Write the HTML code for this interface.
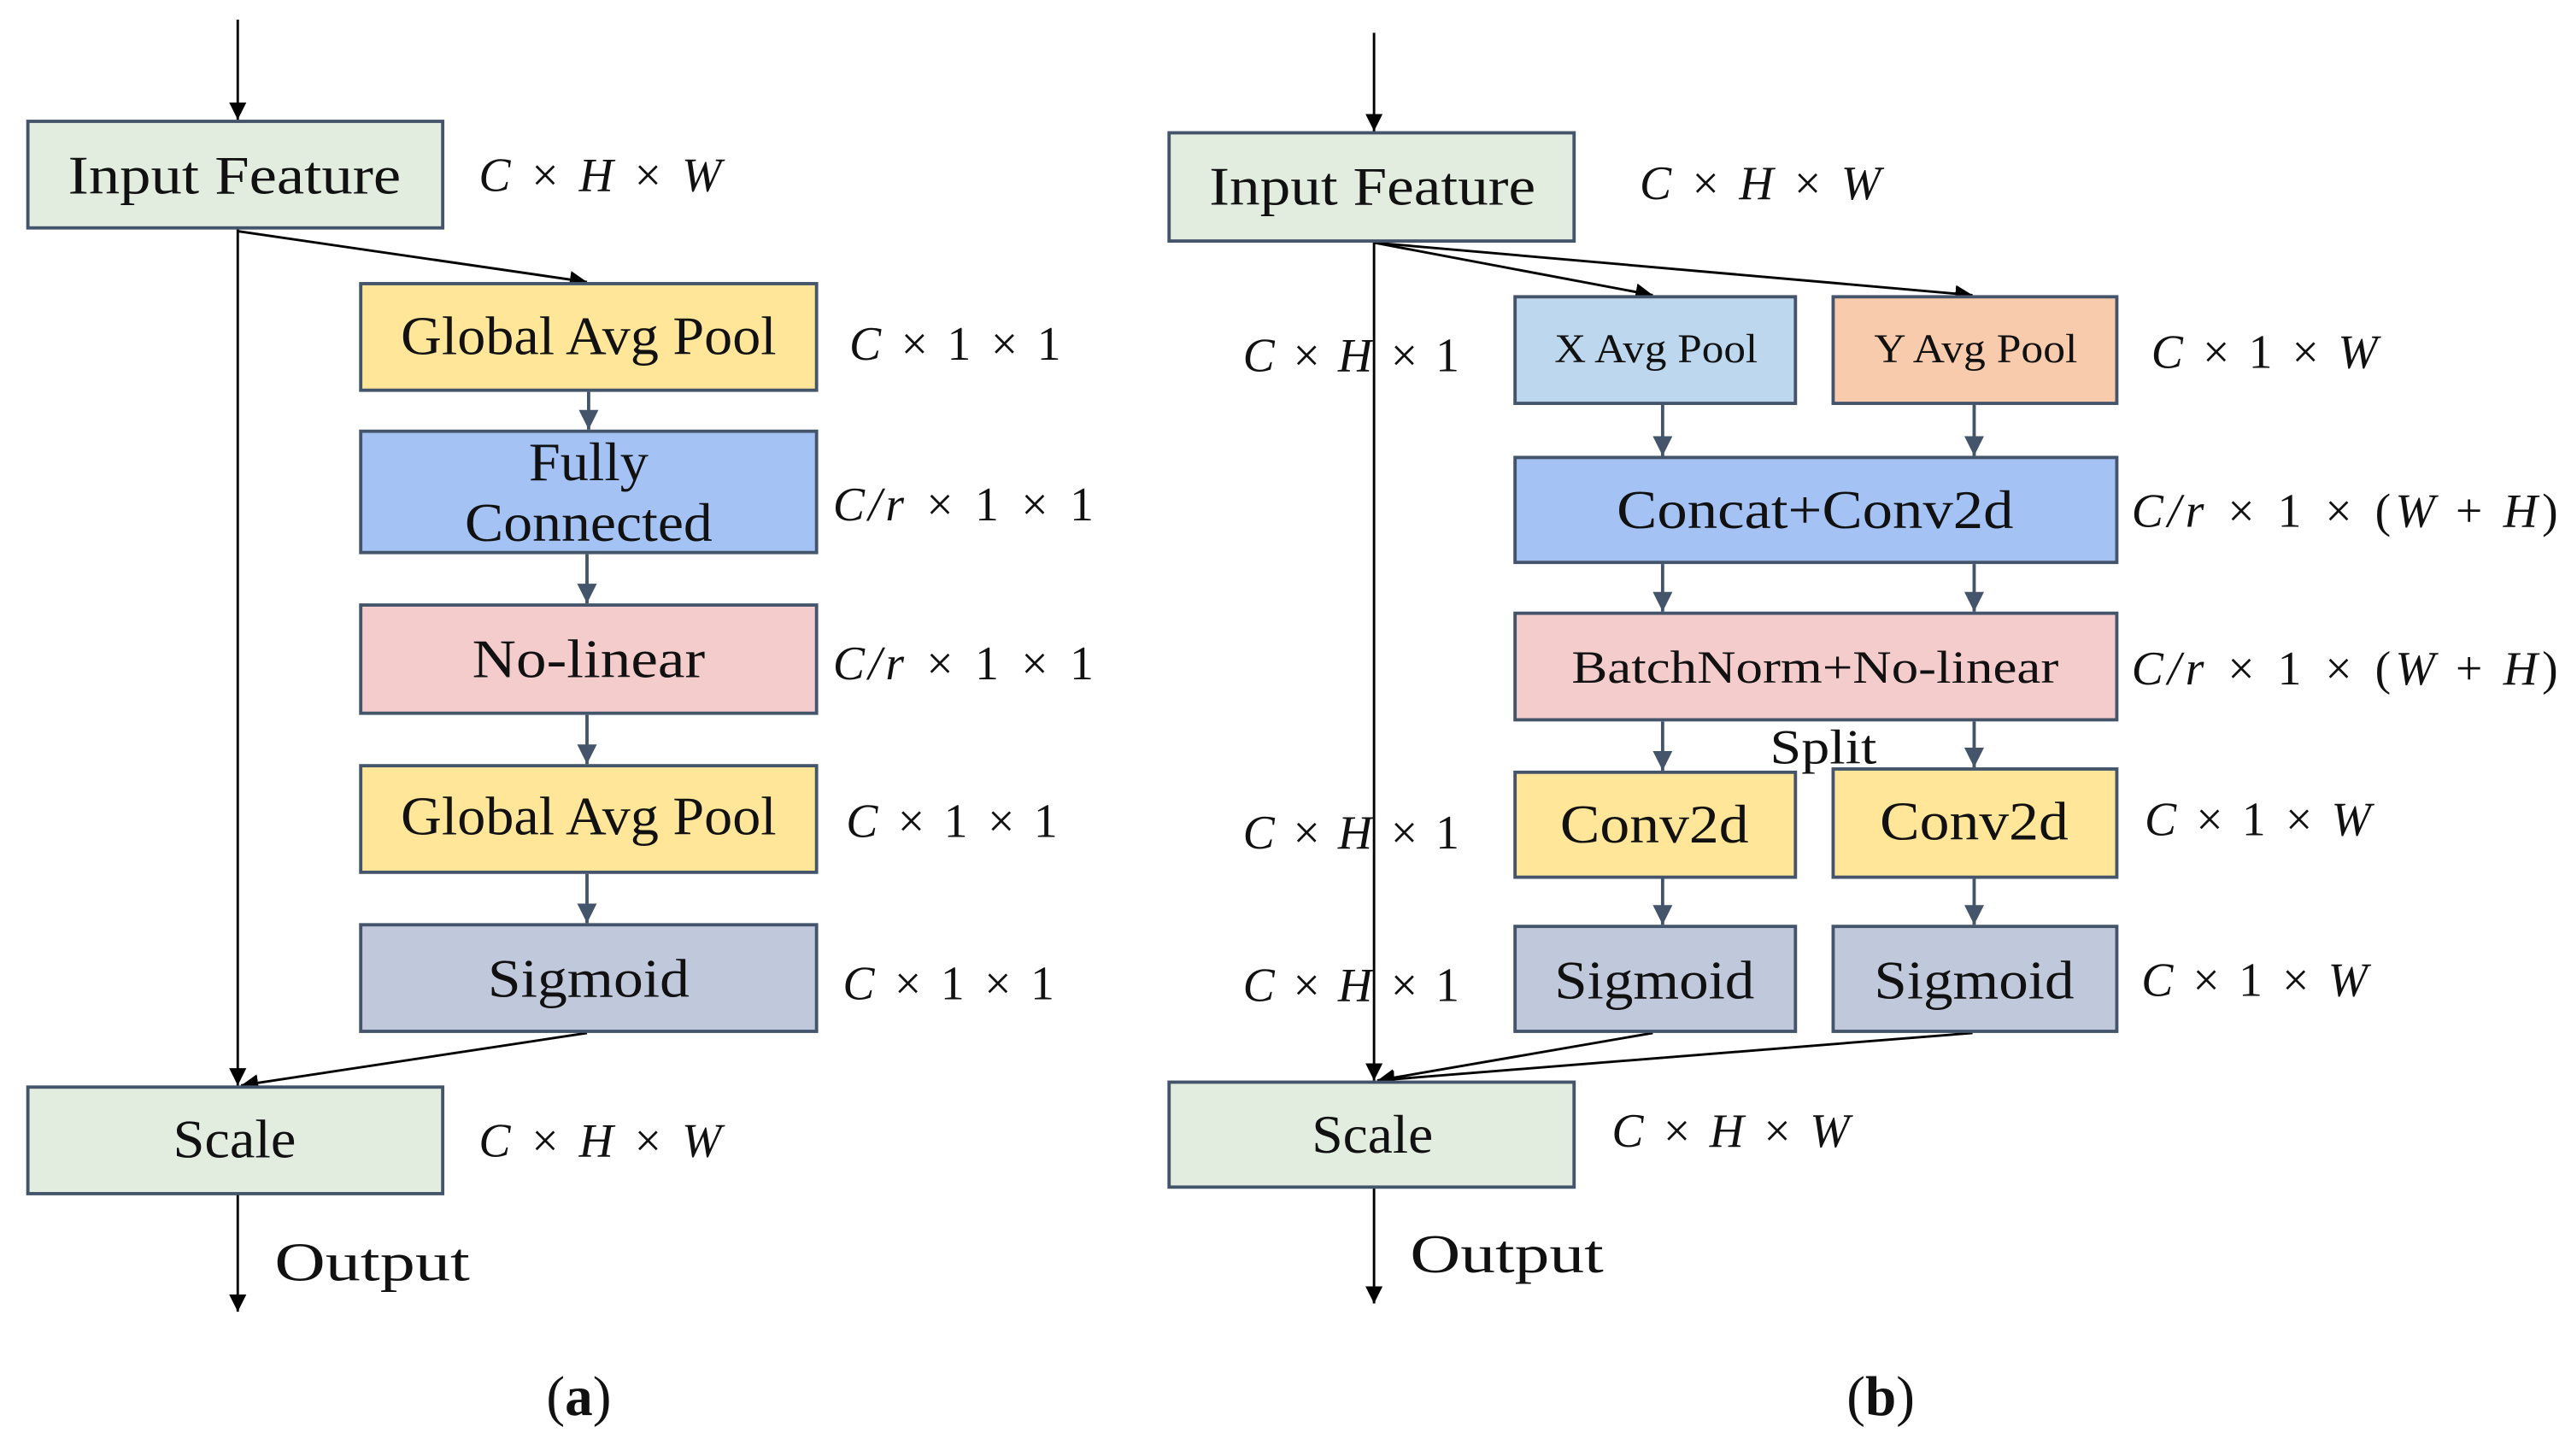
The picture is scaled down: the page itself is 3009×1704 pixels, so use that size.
<!DOCTYPE html>
<html><head><meta charset="utf-8"><style>
html,body{margin:0;padding:0;background:#fff;}
svg{display:block;}
.t{font-family:"Liberation Serif",serif;fill:#111;text-anchor:middle;dominant-baseline:central;}
.m{font-family:"Liberation Serif",serif;font-style:italic;fill:#111;dominant-baseline:central;font-size:29px;}
.b{stroke:#44546a;stroke-width:2;}
</style></head><body>
<svg width="3009" height="1704" viewBox="0 0 1568 888" preserveAspectRatio="none" xmlns="http://www.w3.org/2000/svg">
<defs>
<marker id="k" viewBox="0 0 10 10" refX="10" refY="5" markerWidth="7" markerHeight="7" orient="auto"><path d="M0,0L10,5L0,10z" fill="#000"/></marker>
<marker id="g" viewBox="0 0 10 10" refX="10" refY="5" markerWidth="6" markerHeight="6" orient="auto"><path d="M0,0L10,5L0,10z" fill="#44546a"/></marker>
</defs>
<g stroke="#000" stroke-width="1.5" fill="none">
<line x1="145" y1="12" x2="145" y2="73" marker-end="url(#k)"/>
<line x1="145" y1="139" x2="145" y2="662" marker-end="url(#k)"/>
<line x1="145" y1="141" x2="358" y2="172" marker-end="url(#k)"/>
<line x1="358" y1="630" x2="147" y2="662" marker-end="url(#k)"/>
<line x1="145" y1="728" x2="145" y2="800" marker-end="url(#k)"/>
<line x1="838" y1="20" x2="838" y2="80" marker-end="url(#k)"/>
<line x1="838" y1="147" x2="838" y2="659" marker-end="url(#k)"/>
<line x1="838" y1="148" x2="1008" y2="180" marker-end="url(#k)"/>
<line x1="838" y1="148" x2="1203" y2="180" marker-end="url(#k)"/>
<line x1="1008" y1="630" x2="840" y2="659" marker-end="url(#k)"/>
<line x1="1203" y1="630" x2="840" y2="659" marker-end="url(#k)"/>
<line x1="838" y1="724" x2="838" y2="795" marker-end="url(#k)"/>
</g>
<g stroke="#44546a" stroke-width="2" marker-end="url(#g)">
<line x1="359" y1="239" x2="359" y2="262"/>
<line x1="358" y1="338" x2="358" y2="368"/>
<line x1="358" y1="436" x2="358" y2="466"/>
<line x1="358" y1="533" x2="358" y2="563"/>
<line x1="1014" y1="247" x2="1014" y2="278"/>
<line x1="1204" y1="247" x2="1204" y2="278"/>
<line x1="1014" y1="344" x2="1014" y2="373"/>
<line x1="1204" y1="344" x2="1204" y2="373"/>
<line x1="1014" y1="440" x2="1014" y2="470"/>
<line x1="1204" y1="440" x2="1204" y2="468"/>
<line x1="1014" y1="536" x2="1014" y2="564"/>
<line x1="1204" y1="536" x2="1204" y2="564"/>
</g>
<g class="b">
<rect x="17" y="74" width="253" height="65" fill="#e2ecdf"/>
<rect x="220" y="173" width="278" height="65" fill="#ffe699"/>
<rect x="220" y="263" width="278" height="74" fill="#a4c2f4"/>
<rect x="220" y="369" width="278" height="66" fill="#f4cccc"/>
<rect x="220" y="467" width="278" height="65" fill="#ffe699"/>
<rect x="220" y="564" width="278" height="65" fill="#c0c9db"/>
<rect x="17" y="663" width="253" height="65" fill="#e2ecdf"/>
<rect x="713" y="81" width="247" height="66" fill="#e2ecdf"/>
<rect x="924" y="181" width="171" height="65" fill="#bdd7ee"/>
<rect x="1118" y="181" width="173" height="65" fill="#f8cbad"/>
<rect x="924" y="279" width="367" height="64" fill="#a4c2f4"/>
<rect x="924" y="374" width="367" height="65" fill="#f4cccc"/>
<rect x="924" y="471" width="171" height="64" fill="#ffe699"/>
<rect x="1118" y="469" width="173" height="66" fill="#ffe699"/>
<rect x="924" y="565" width="171" height="64" fill="#c0c9db"/>
<rect x="1118" y="565" width="173" height="64" fill="#c0c9db"/>
<rect x="713" y="660" width="247" height="64" fill="#e2ecdf"/>
</g>
<g class="t" font-size="33">
<text x="143" y="107" textLength="203" lengthAdjust="spacingAndGlyphs">Input Feature</text>
<text x="359" y="205" textLength="229" lengthAdjust="spacingAndGlyphs">Global Avg Pool</text>
<text x="359" y="282" textLength="73" lengthAdjust="spacingAndGlyphs">Fully</text>
<text x="359" y="319" textLength="151" lengthAdjust="spacingAndGlyphs">Connected</text>
<text x="359" y="402" textLength="142" lengthAdjust="spacingAndGlyphs">No-linear</text>
<text x="359" y="498" textLength="229" lengthAdjust="spacingAndGlyphs">Global Avg Pool</text>
<text x="359" y="597" textLength="123" lengthAdjust="spacingAndGlyphs">Sigmoid</text>
<text x="143" y="695" textLength="75" lengthAdjust="spacingAndGlyphs">Scale</text>
<text x="227" y="770" textLength="119" lengthAdjust="spacingAndGlyphs">Output</text>
<text x="353" y="852" font-size="34">(<tspan font-weight="bold">a</tspan>)</text>
<text x="837" y="114" textLength="199" lengthAdjust="spacingAndGlyphs">Input Feature</text>
<text x="1010" y="213" font-size="25" textLength="124" lengthAdjust="spacingAndGlyphs">X Avg Pool</text>
<text x="1205" y="213" font-size="25" textLength="124" lengthAdjust="spacingAndGlyphs">Y Avg Pool</text>
<text x="1107" y="311" textLength="242" lengthAdjust="spacingAndGlyphs">Concat+Conv2d</text>
<text x="1107" y="407" font-size="28" textLength="297" lengthAdjust="spacingAndGlyphs">BatchNorm+No-linear</text>
<text x="1112" y="456" font-size="30" textLength="65" lengthAdjust="spacingAndGlyphs">Split</text>
<text x="1009" y="503" textLength="115" lengthAdjust="spacingAndGlyphs">Conv2d</text>
<text x="1204" y="501" textLength="115" lengthAdjust="spacingAndGlyphs">Conv2d</text>
<text x="1009" y="598" textLength="122" lengthAdjust="spacingAndGlyphs">Sigmoid</text>
<text x="1204" y="598" textLength="122" lengthAdjust="spacingAndGlyphs">Sigmoid</text>
<text x="837" y="692" textLength="74" lengthAdjust="spacingAndGlyphs">Scale</text>
<text x="919" y="765" textLength="118" lengthAdjust="spacingAndGlyphs">Output</text>
<text x="1147" y="852" font-size="34">(<tspan font-weight="bold">b</tspan>)</text>
</g>
<g class="m">
<text x="292" y="107" textLength="148">C × H × W</text>
<text x="518" y="210" textLength="129">C × <tspan font-style="normal">1</tspan> × <tspan font-style="normal">1</tspan></text>
<text x="508" y="308" textLength="159">C/r × <tspan font-style="normal">1</tspan> × <tspan font-style="normal">1</tspan></text>
<text x="508" y="405" textLength="159">C/r × <tspan font-style="normal">1</tspan> × <tspan font-style="normal">1</tspan></text>
<text x="516" y="501" textLength="129">C × <tspan font-style="normal">1</tspan> × <tspan font-style="normal">1</tspan></text>
<text x="514" y="600" textLength="129">C × <tspan font-style="normal">1</tspan> × <tspan font-style="normal">1</tspan></text>
<text x="292" y="696" textLength="148">C × H × W</text>
<text x="1000" y="112" textLength="147">C × H × W</text>
<text x="758" y="217" textLength="132">C × H × <tspan font-style="normal">1</tspan></text>
<text x="1312" y="215" textLength="138">C × <tspan font-style="normal">1</tspan> × W</text>
<text x="1300" y="312" textLength="260">C/r × <tspan font-style="normal">1</tspan> × <tspan font-style="normal">(</tspan>W <tspan font-style="normal">+</tspan> H<tspan font-style="normal">)</tspan></text>
<text x="1300" y="408" textLength="260">C/r × <tspan font-style="normal">1</tspan> × <tspan font-style="normal">(</tspan>W <tspan font-style="normal">+</tspan> H<tspan font-style="normal">)</tspan></text>
<text x="758" y="508" textLength="132">C × H × <tspan font-style="normal">1</tspan></text>
<text x="1308" y="500" textLength="138">C × <tspan font-style="normal">1</tspan> × W</text>
<text x="758" y="601" textLength="132">C × H × <tspan font-style="normal">1</tspan></text>
<text x="1306" y="598" textLength="138">C × <tspan font-style="normal">1</tspan> × W</text>
<text x="983" y="690" textLength="145">C × H × W</text>
</g>
</svg>
</body></html>
